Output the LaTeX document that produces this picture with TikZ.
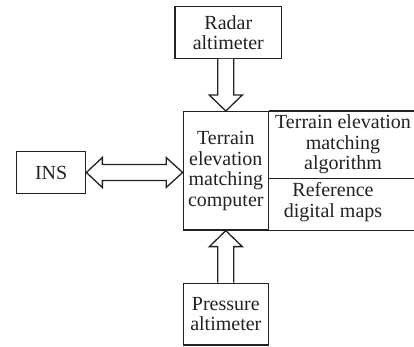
\documentclass[tikz,border=0pt]{standalone}
\usepackage{fontspec}
\setmainfont{Liberation Serif}
\usetikzlibrary{calc}
\definecolor{ink}{HTML}{222222}
\begin{document}
\begin{tikzpicture}[x=1pt,y=1pt,
 box/.style={draw=ink, text=ink, line width=1.3pt, inner sep=0pt, align=center, font=\fontsize{20}{20.6}\selectfont},
 txt/.style={text=ink, inner sep=0pt, align=center, font=\fontsize{20}{20.6}\selectfont},
 barrow/.style={draw=ink, line width=1.3pt, fill=white, line join=miter},
 rule/.style={draw=ink, line width=1.3pt}]
\useasboundingbox (0,0) rectangle (414,347);
\node[box, minimum width=106.7pt, minimum height=51.6pt] (radar) at (228.3,314.5) {Radar\\altimeter};
\node[box, minimum width=85pt, minimum height=118.3pt] (comp) at (225.8,176.15) {Terrain\\elevation\\matching\\computer};
\node[box, minimum width=69pt, minimum height=41.6pt] (ins) at (51.2,174.5) {INS};
\node[box, minimum width=85pt, minimum height=61.7pt] (press) at (225.8,32.8) {Pressure\\altimeter};
\node[txt] (algo) at (343,202.5) {Terrain elevation\\matching\\algorithm};
\node[txt] (maps) at (333,145) {Reference\\digital maps};
\coordinate (edge) at (414,0);
\coordinate (div) at ($(comp.north east)!0.563!(comp.south east)$);
\draw[rule] (comp.north east) -- (comp.north east -| edge);
\draw[rule] (comp.south east) -- (comp.south east -| edge);
\draw[rule] (div) -- (div -| edge);
% radar arrow
\draw[barrow] ($(radar.south -| comp.north)+(-8,0)$) -- ($(comp.north)+(-8,16)$) -- ($(comp.north)+(-16.5,16)$) -- (comp.north) -- ($(comp.north)+(16.5,16)$) -- ($(comp.north)+(8,16)$) -- ($(radar.south -| comp.north)+(8,0)$);
% pressure arrow
\draw[barrow] ($(press.north)+(-8,0)$) -- ($(comp.south)+(-8,-16)$) -- ($(comp.south)+(-16.5,-16)$) -- (comp.south) -- ($(comp.south)+(16.5,-16)$) -- ($(comp.south)+(8,-16)$) -- ($(press.north)+(8,0)$);
% INS double arrow
\coordinate (R) at (ins.east -| comp.west);
\draw[barrow] (ins.east) -- ($(ins.east)+(16,15)$) -- ($(ins.east)+(16,8)$) -- ($(R)+(-16.5,8)$) -- ($(R)+(-16.5,15)$) -- (R) -- ($(R)+(-16.5,-15)$) -- ($(R)+(-16.5,-8)$) -- ($(ins.east)+(16,-8)$) -- ($(ins.east)+(16,-15)$) -- cycle;
\end{tikzpicture}
\end{document}
